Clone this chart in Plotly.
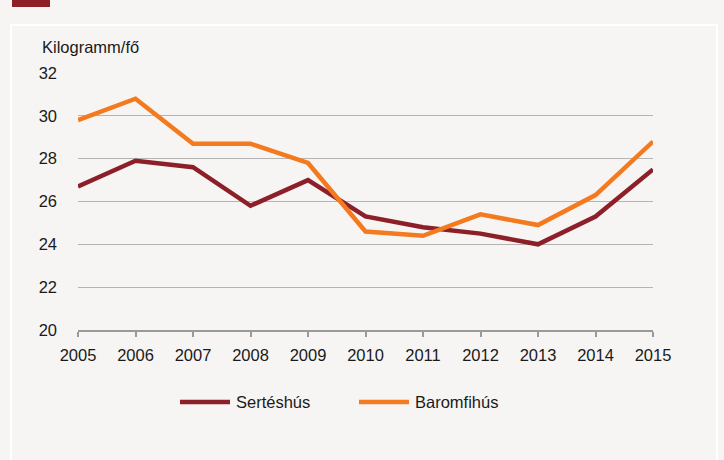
import plotly.graph_objects as go

years = [2005, 2006, 2007, 2008, 2009, 2010, 2011, 2012, 2013, 2014, 2015]
sertes = [26.7, 27.9, 27.6, 25.8, 27.0, 25.3, 24.8, 24.5, 24.0, 25.3, 27.5]
baromfi = [29.8, 30.8, 28.7, 28.7, 27.8, 24.6, 24.4, 25.4, 24.9, 26.3, 28.8]
series_names = ["Sertéshús", "Baromfihús"]
y_ticks = [20, 22, 24, 26, 28, 30, 32]
y_title = "Kilogramm/fő"

C_SERTES = "#8c1f28"
C_BAROMFI = "#f47a20"
BG = "#f7f5f3"
FONT = "Liberation Sans, Arial, sans-serif"

# plot area in pixels (for paper-coordinate conversions of decorations)
W, H = 724, 460
L, R, T, B = 78, 653, 73, 330


def px(x):
    return (x - L) / (R - L)


def py(y):
    return (B - y) / (B - T)


fig = go.Figure()
fig.add_trace(go.Scatter(x=years, y=sertes, mode="lines", name=series_names[0],
                         line=dict(color=C_SERTES, width=4.5), showlegend=False))
fig.add_trace(go.Scatter(x=years, y=baromfi, mode="lines", name=series_names[1],
                         line=dict(color=C_BAROMFI, width=4.5), showlegend=False))

shapes = [
    # white panel border
    dict(type="rect", xref="paper", yref="paper", x0=px(11), x1=px(717), y0=py(480), y1=py(25),
         line=dict(color="white", width=2), fillcolor="rgba(0,0,0,0)", layer="below"),
    # dark red header block
    dict(type="rect", xref="paper", yref="paper", x0=px(12), x1=px(50), y0=py(7), y1=py(-10),
         line=dict(width=0), fillcolor=C_SERTES, layer="below"),
    # legend samples
    dict(type="line", xref="paper", yref="paper", x0=px(180), x1=px(230), y0=py(402), y1=py(402),
         line=dict(color=C_SERTES, width=4.5)),
    dict(type="line", xref="paper", yref="paper", x0=px(359), x1=px(409), y0=py(402), y1=py(402),
         line=dict(color=C_BAROMFI, width=4.5)),
]

annotations = [
    dict(text=y_title, xref="paper", yref="paper", x=px(40), y=py(47), xanchor="left", yanchor="middle",
         showarrow=False, font=dict(size=16.5, color="#1a1a1a", family=FONT)),
    dict(text=series_names[0], xref="paper", yref="paper", x=px(234), y=py(402), xanchor="left",
         yanchor="middle", showarrow=False, font=dict(size=16.5, color="#1a1a1a", family=FONT)),
    dict(text=series_names[1], xref="paper", yref="paper", x=px(413), y=py(402), xanchor="left",
         yanchor="middle", showarrow=False, font=dict(size=16.5, color="#1a1a1a", family=FONT)),
]

fig.update_layout(
    width=W, height=H,
    margin=dict(l=L, r=W - R, t=T, b=H - B, pad=0),
    paper_bgcolor=BG, plot_bgcolor=BG,
    font=dict(family=FONT, size=16.5, color="#1a1a1a"),
    shapes=shapes, annotations=annotations,
    showlegend=False,
)
fig.update_xaxes(range=[2005, 2015], tickmode="array", tickvals=years, ticktext=[str(y) for y in years],
                 showgrid=False, showline=True, linecolor="#9a9a9a", linewidth=1.5,
                 ticks="outside", ticklen=5, tickcolor="#9a9a9a", tickwidth=1.5, zeroline=False,
                 ticklabelstandoff=4, tickfont=dict(size=16.5, color="#1a1a1a"))
fig.update_yaxes(range=[20, 32], tickmode="array", tickvals=y_ticks, showgrid=True,
                 gridcolor="#b4b4b4", gridwidth=1, showline=False, zeroline=False, ticks="",
                 ticklabelstandoff=20, tickfont=dict(size=16.5, color="#1a1a1a"))

fig.write_html(
    "out.html",
    config={"displayModeBar": False},
    post_script="document.body.style.margin='0';document.body.style.background='" + BG + "';",
)
